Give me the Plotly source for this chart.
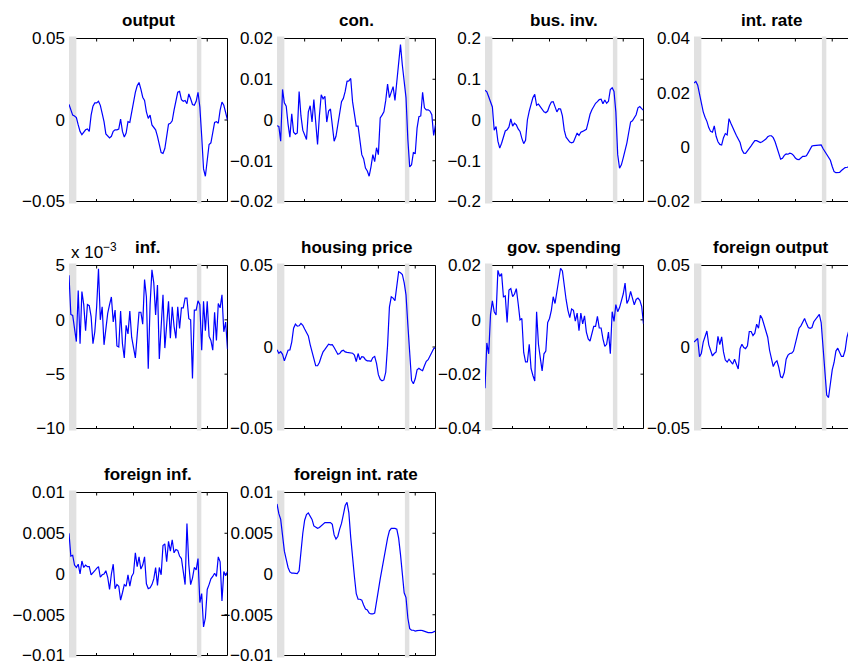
import plotly.graph_objects as go

# ---------------- data ----------------
quarters = [1986.25 + 0.25 * i for i in range(87)]
shade_start = [1986.25, 2003.6]
shade_end = [1987.25, 2004.2]
tick_years = [1990, 1995, 2000, 2005]

titles = ["output", "con.", "bus. inv.", "int. rate", "inf.", "housing price",
          "gov. spending", "foreign output", "foreign inf.", "foreign int. rate"]

output = [0.0096, 0.0065, 0.0030, 0.0025, 0.0015, -0.0030, -0.0070, -0.0090, -0.0075, -0.0060,
          -0.0055, -0.0070, 0.0030, 0.0085, 0.0105, 0.0105, 0.0115, 0.0090, 0.0040, -0.0010,
          -0.0085, -0.0100, -0.0110, -0.0100, -0.0070, -0.0060, -0.0060, -0.0055, 0.0005, -0.0070,
          -0.0105, -0.0080, -0.0010, -0.0015, 0.0050, 0.0110, 0.0170, 0.0210, 0.0230, 0.0190,
          0.0140, 0.0120, 0.0050, 0.0010, 0.0030, -0.0030, -0.0045, -0.0060, -0.0100, -0.0150,
          -0.0200, -0.0205, -0.0175, -0.0100, -0.0025, -0.0020, -0.0005, 0.0060, 0.0120, 0.0170,
          0.0175, 0.0125, 0.0115, 0.0120, 0.0100, 0.0160, 0.0130, 0.0095, 0.0090, 0.0115,
          0.0170, 0.0080, -0.0100, -0.0300, -0.0345, -0.0260, -0.0150, -0.0140, -0.0080, -0.0015,
          -0.0010, -0.0020, 0.0060, 0.0110, 0.0090, 0.0040, 0.0000]

con = [-0.0014, -0.0016, -0.0052, 0.0075, 0.0042, 0.0034, -0.0010, -0.0042, 0.0015, -0.0030,
       -0.0035, -0.0032, 0.0070, 0.0010, -0.0025, -0.0035, -0.0048, 0.0020, 0.0035, -0.0005,
       0.0050, -0.0005, -0.0060, 0.0010, 0.0062, 0.0052, 0.0058, -0.0005, 0.0022, 0.0027,
       -0.0015, -0.0052, -0.0040, -0.0015, 0.0010, 0.0045, 0.0053, 0.0070, 0.0095, 0.0096,
       0.0102, 0.0045, 0.0015, -0.0015, -0.0015, -0.0050, -0.0085, -0.0095, -0.0118, -0.0125,
       -0.0138, -0.0115, -0.0085, -0.0102, -0.0068, -0.0085, 0.0005, 0.0012, 0.0020, 0.0048,
       0.0088, 0.0055, 0.0072, 0.0082, 0.0048, 0.0095, 0.0135, 0.0185, 0.0135, 0.0100,
       0.0055, -0.0048, -0.0115, -0.0110, -0.0080, -0.0082, -0.0020, 0.0008, 0.0010, 0.0068,
       0.0030, 0.0025, 0.0025, 0.0022, 0.0013, -0.0038, -0.0012]

bus_inv = [0.073, 0.069, 0.057, 0.043, 0.032, -0.025, -0.016, -0.052, -0.069, -0.057,
           -0.040, -0.027, -0.024, -0.017, 0.003, -0.015, -0.008, -0.012, -0.022, -0.028,
           -0.045, -0.058, -0.050, 0.000, 0.022, 0.039, 0.055, 0.063, 0.036, 0.039,
           0.033, 0.028, 0.020, 0.018, 0.022, 0.035, 0.044, 0.045, 0.034, 0.020,
           0.028, 0.027, 0.010, -0.025, -0.042, -0.048, -0.054, -0.056, -0.054, -0.043,
           -0.032, -0.038, -0.030, -0.028, -0.026, -0.023, -0.005, 0.014, 0.025, 0.033,
           0.041, 0.045, 0.050, 0.051, 0.040, 0.049, 0.041, 0.046, 0.075, 0.079,
           0.070, 0.020, -0.085, -0.118, -0.110, -0.093, -0.075, -0.056, -0.030, -0.005,
           -0.002, 0.004, 0.013, 0.030, 0.033, 0.028, 0.024]

int_rate = [0.0236, 0.0242, 0.0228, 0.0195, 0.0160, 0.0130, 0.0110, 0.0095, 0.0072, 0.0058,
            0.0055, 0.0078, 0.0040, 0.0020, 0.0010, 0.0008, 0.0035, 0.0050, 0.0045, 0.0105,
            0.0088, 0.0070, 0.0058, 0.0043, 0.0029, 0.0017, -0.0010, -0.0022, -0.0023, -0.0015,
            -0.0005, 0.0005, 0.0015, 0.0024, 0.0024, 0.0021, 0.0017, 0.0020, 0.0024, 0.0030,
            0.0038, 0.0042, 0.0042, 0.0035, 0.0020, -0.0002, -0.0025, -0.0044, -0.0041, -0.0030,
            -0.0025, -0.0026, -0.0022, -0.0024, -0.0030, -0.0040, -0.0045, -0.0046, -0.0040, -0.0034,
            -0.0034, -0.0032, -0.0020, -0.0005, 0.0004, 0.0006, 0.0006, 0.0006, 0.0007, 0.0008,
            -0.0005, -0.0015, -0.0029, -0.0036, -0.0048, -0.0071, -0.0090, -0.0094, -0.0094, -0.0093,
            -0.0086, -0.0080, -0.0075, -0.0074, -0.0073, -0.0072, -0.0070]

inf = [0.0041, 0.0005, 0.0004, -0.0006, -0.0020, 0.0027, -0.0022, 0.0026, 0.0014, -0.0010,
       0.0014, 0.0013, 0.0003, -0.0022, -0.0011, 0.0012, 0.0047, 0.0000, 0.0012, -0.0023,
       -0.0005, 0.0006, 0.0014, 0.0021, -0.0002, 0.0009, -0.0024, -0.0025, 0.0008, -0.0022,
       -0.0035, -0.0005, -0.0013, 0.0008, -0.0016, -0.0027, -0.0035, -0.0014, 0.0007, 0.0007,
       -0.0004, 0.0037, 0.0021, -0.0045, 0.0014, 0.0046, 0.0034, 0.00045, 0.0032, -0.0036,
       -0.0005, 0.0023, -0.0026, -0.0008, 0.0017, -0.0017, 0.0012, -0.0006, -0.0017, 0.0012,
       -0.0008, 0.0011, 0.0011, 0.0020, 0.0020, 0.0001, 0.0000, -0.0054, 0.0009, 0.0009,
       0.00175, 0.0014, -0.0028, 0.0017, -0.0010, 0.0017, -0.0015, -0.0019, -0.0028, 0.0007,
       -0.0019, 0.0015, 0.0011, 0.0023, -0.0011, -0.0002, -0.0027]

housing_price = [-0.0017, -0.0038, -0.0028, -0.0045, -0.0085, -0.0045, -0.0020, -0.0018, 0.0030, 0.0115,
                 0.0140, 0.0128, 0.0130, 0.0145, 0.0133, 0.0110, 0.0085, 0.0068, 0.0015, -0.0030,
                 -0.0085, -0.0115, -0.0115, -0.0095, -0.0060, -0.0030, -0.0015, 0.0003, 0.0017, 0.0013,
                 0.0015, -0.0003, -0.0022, -0.0045, -0.0040, -0.0025, -0.0020, -0.0030, -0.0033, -0.0035,
                 -0.0035, -0.0038, -0.0050, -0.0090, -0.0040, -0.0078, -0.0060, -0.0062, -0.0078, -0.0085,
                 -0.0085, -0.0088, -0.0065, -0.0058, -0.0100, -0.0170, -0.0198, -0.0208, -0.0202, -0.0155,
                 0.0010, 0.0245, 0.0308, 0.0300, 0.0285, 0.0380, 0.0462, 0.0455, 0.0445, 0.0395,
                 0.0320, 0.0137, -0.0070, -0.0205, -0.0225, -0.0195, -0.0140, -0.0130, -0.0140, -0.0145,
                 -0.0115, -0.0088, -0.0078, -0.0055, -0.0038, -0.0010, -0.0003]

gov_spending = [-0.0252, -0.0085, -0.0125, 0.0020, 0.0070, 0.0030, 0.0018, 0.0182, 0.0160, 0.0170,
                0.0085, 0.0088, -0.0010, 0.0110, 0.0115, 0.0085, 0.0095, 0.0115, 0.0060, 0.0000,
                0.0005, -0.0120, -0.0155, -0.0155, -0.0090, -0.0180, -0.0205, -0.0225, 0.0030, -0.0090,
                -0.0140, -0.0188, -0.0125, -0.0115, -0.0010, 0.0005, 0.0035, 0.0085, 0.0060, 0.0100,
                0.0140, 0.0190, 0.0180, 0.0120, 0.0075, 0.0035, 0.0008, 0.0040, 0.0035, -0.0005,
                0.0025, -0.0040, 0.0025, -0.0015, 0.0015, -0.0045, -0.0070, -0.0078, -0.0055, -0.0024,
                -0.0024, 0.0013, -0.0030, -0.0030, -0.0070, -0.0098, -0.0090, -0.0045, -0.0125, 0.0030,
                -0.0006, 0.0056, 0.0030, 0.0045, 0.0070, 0.0095, 0.0135, 0.0060, 0.0075, 0.0105,
                0.0080, 0.0055, 0.0075, 0.0080, 0.0072, 0.0050, -0.0015]

foreign_output = [0.0030, 0.0044, 0.0052, -0.0060, -0.0038, 0.0030, 0.0070, 0.0098, 0.0015, -0.0017,
                  -0.0055, -0.0040, -0.0030, 0.0065, 0.0015, 0.0062, -0.0030, -0.0080, -0.0092, -0.0075,
                  -0.0090, -0.0105, -0.0075, -0.0110, -0.0135, -0.0010, 0.0017, -0.0003, -0.0010, 0.0008,
                  0.0095, 0.0095, 0.0070, 0.0085, 0.0140, 0.0115, 0.0195, 0.0175, 0.0135, 0.0110,
                  0.0060, -0.0020, -0.0080, -0.0120, -0.0095, -0.0085, -0.0125, -0.0183, -0.0188, -0.0155,
                  -0.0075, -0.0050, -0.0040, -0.0038, -0.0025, 0.0025, 0.0080, 0.0115, 0.0130, 0.0155,
                  0.0175, 0.0145, 0.0120, 0.0115, 0.0120, 0.0155, 0.0170, 0.0185, 0.0200, 0.0150,
                  -0.0020, -0.0160, -0.0295, -0.0310, -0.0220, -0.0140, -0.0095, -0.0025, -0.0007, -0.0030,
                  -0.0058, -0.0058, -0.0020, 0.0060, 0.0100, 0.0110, 0.0100]

foreign_inf = [0.0050, 0.0022, 0.0023, 0.0011, 0.0008, 0.0012, 0.0000, 0.0016, 0.0008, 0.0011,
               0.0009, 0.0009, -0.0001, 0.0001, 0.0004, 0.0007, 0.0009, -0.0004, -0.0001, 0.0000,
               0.0004, -0.0004, -0.0019, 0.0000, 0.0012, -0.0018, -0.0013, -0.0015, -0.0032, -0.0023,
               -0.0013, -0.0015, -0.0001, -0.0015, -0.0003, 0.0001, 0.0026, 0.0009, 0.0021, 0.0006,
               0.0011, 0.0021, -0.0012, -0.0018, -0.0017, -0.0013, -0.0006, 0.0008, -0.0014, 0.0008,
               -0.0001, 0.0035, 0.0037, 0.0015, 0.0040, 0.0028, 0.0042, 0.0026, 0.0030, 0.0029,
               0.0022, 0.0019, 0.0005, -0.0013, 0.0062, 0.0012, -0.0013, -0.0005, 0.0008, 0.0005,
               0.0019, -0.0035, -0.0024, -0.0065, -0.0054, -0.0019, -0.0013, -0.0006, -0.0003, 0.0001,
               -0.0003, 0.0021, 0.0015, -0.0033, 0.0003, -0.0002, 0.0003]

foreign_int_rate = [0.0086, 0.0074, 0.0067, 0.0046, 0.0028, 0.0018, 0.0008, 0.00025, 0.0001, 0.0001,
                    0.0001, 0.00005, 0.0004, 0.0028, 0.0050, 0.0066, 0.0073, 0.0075, 0.0071, 0.0067,
                    0.0059, 0.0057, 0.0056, 0.0057, 0.0059, 0.0062, 0.0063, 0.0063, 0.0063, 0.0063,
                    0.0061, 0.0048, 0.0043, 0.0046, 0.0055, 0.0062, 0.0073, 0.0084, 0.0088, 0.0075,
                    0.0045, 0.0018, -0.0003, -0.0024, -0.0031, -0.0031, -0.0032, -0.0038, -0.0043, -0.0044,
                    -0.0048, -0.0049, -0.0049, -0.0048, -0.0036, -0.0020, -0.0006, 0.0006, 0.0022, 0.0035,
                    0.0044, 0.0053, 0.0056, 0.0056, 0.0056, 0.0055, 0.0044, 0.0024, 0.0000, -0.0023,
                    -0.0029, -0.0054, -0.0067, -0.0069, -0.0069, -0.0070, -0.00695, -0.0069, -0.0069, -0.00695,
                    -0.00705, -0.0071, -0.0072, -0.0072, -0.0072, -0.0071, -0.0070]

series = [output, con, bus_inv, int_rate, inf, housing_price,
          gov_spending, foreign_output, foreign_inf, foreign_int_rate]

y_ranges = [[-0.05, 0.05], [-0.02, 0.02], [-0.2, 0.2], [-0.02, 0.04], [-0.01, 0.005],
            [-0.05, 0.05], [-0.04, 0.02], [-0.05, 0.05], [-0.01, 0.01], [-0.01, 0.01]]
y_tickvals = [[-0.05, 0, 0.05], [-0.02, -0.01, 0, 0.01, 0.02], [-0.2, -0.1, 0, 0.1, 0.2],
              [-0.02, 0, 0.02, 0.04], [-0.01, -0.005, 0, 0.005], [-0.05, 0, 0.05],
              [-0.04, -0.02, 0, 0.02], [-0.05, 0, 0.05],
              [-0.01, -0.005, 0, 0.005, 0.01], [-0.01, -0.005, 0, 0.005, 0.01]]
y_ticktext = [["\u22120.05", "0", "0.05"], ["\u22120.02", "\u22120.01", "0", "0.01", "0.02"],
              ["\u22120.2", "\u22120.1", "0", "0.1", "0.2"], ["\u22120.02", "0", "0.02", "0.04"],
              ["\u221210", "\u22125", "0", "5"], ["\u22120.05", "0", "0.05"],
              ["\u22120.04", "\u22120.02", "0", "0.02"], ["\u22120.05", "0", "0.05"],
              ["\u22120.01", "\u22120.005", "0", "0.005", "0.01"],
              ["\u22120.01", "\u22120.005", "0", "0.005", "0.01"]]

# ---------------- layout geometry (pixels) ----------------
W, H = 848, 666
col_px = [(69.0, 227.5), (277.0, 435.5), (485.0, 643.5), (694.0, 852.5)]
row_px = [(38.5, 201.5), (265.5, 428.5), (492.5, 655.5)]
FONT = "Liberation Sans, Arial, Helvetica, sans-serif"
FS_TICK = 17
FS_TITLE = 17
GRAY = "#e1e1e1"
FRAME = dict(color="black", width=1)
TICK_PX = 3

fig = go.Figure()
layout = dict(template="none", width=W, height=H,
              margin=dict(l=0, r=0, t=0, b=0, pad=0, autoexpand=False),
              paper_bgcolor="white", plot_bgcolor="white", showlegend=False,
              font=dict(family=FONT, size=FS_TICK, color="black"))
annotations = []
shapes = []
x_full = [quarters[0], quarters[-1]]

for k in range(10):
    n = k + 1
    r, c = divmod(k, 4)
    xl, xr = col_px[c]
    yt, yb = row_px[r]
    xr_vis = min(xr, W)
    clipped = xr > W
    xrange = [x_full[0], x_full[0] + (x_full[1] - x_full[0]) * (xr_vis - xl) / (xr - xl)]
    xs = "" if n == 1 else str(n)
    xref, yref = "x" + xs, "y" + xs
    xd, yd = xref + " domain", yref + " domain"

    layout["xaxis" + xs] = dict(domain=[xl / W, xr_vis / W], anchor=yref, range=xrange,
                               showline=False, ticks="inside", ticklen=TICK_PX, tickcolor="black",
                               tickwidth=1, tickvals=tick_years, showticklabels=False,
                               showgrid=False, zeroline=False, automargin=False)
    layout["yaxis" + xs] = dict(domain=[1 - yb / H, 1 - yt / H], anchor=xref, range=y_ranges[k],
                               tickvals=y_tickvals[k], ticktext=y_ticktext[k], ticks="",
                               ticklabelstandoff=3,
                               showline=False, showgrid=False, zeroline=False, automargin=False,
                               tickfont=dict(family=FONT, size=FS_TICK, color="black"))

    # frame (top, bottom, right); the left edge is hidden under the shading in the original
    shapes.append(dict(type="line", xref=xd, yref=yd, x0=0, x1=1, y0=1, y1=1, line=FRAME, layer="below"))
    shapes.append(dict(type="line", xref=xd, yref=yd, x0=0, x1=1, y0=0, y1=0, line=FRAME, layer="below"))
    if not clipped:
        shapes.append(dict(type="line", xref=xd, yref=yd, x0=1, x1=1, y0=0, y1=1, line=FRAME, layer="below"))
        for tv in y_tickvals[k]:
            shapes.append(dict(type="line", xref=xd, xsizemode="pixel", xanchor=1, x0=0, x1=-TICK_PX,
                               yref=yref, y0=tv, y1=tv, line=FRAME, layer="below"))
    for tx in tick_years:
        shapes.append(dict(type="line", xref=xref, x0=tx, x1=tx, yref=yd, ysizemode="pixel",
                           yanchor=1, y0=0, y1=-TICK_PX, line=FRAME, layer="below"))
    # shaded periods (drawn over the frame, under the data)
    for s0, s1 in zip(shade_start, shade_end):
        shapes.append(dict(type="rect", xref=xref, yref=yd, x0=s0, x1=s1, y0=-0.012, y1=1.012,
                           fillcolor=GRAY, line=dict(width=0), layer="below"))

    fig.add_trace(go.Scatter(x=quarters, y=series[k], mode="lines", xaxis=xref, yaxis=yref,
                             line=dict(color="#0000ff", width=1.2), hoverinfo="skip"))
    annotations.append(dict(text="<b>" + titles[k] + "</b>", xref=xd, yref=yd,
                            x=0.5, y=1, xanchor="center", yanchor="bottom", yshift=7, showarrow=False,
                            font=dict(family=FONT, size=FS_TITLE, color="black")))

annotations.append(dict(text="x 10<sup>\u22123</sup>", xref="x5 domain", yref="y5 domain",
                        x=0, y=1, xanchor="left", yanchor="bottom", yshift=2, showarrow=False,
                        font=dict(family=FONT, size=FS_TICK, color="black")))

layout["annotations"] = annotations
layout["shapes"] = shapes
fig.update_layout(**layout)
fig.write_html("out.html", config={"displayModeBar": False, "staticPlot": True},
               post_script="document.body.style.margin='0px';")
